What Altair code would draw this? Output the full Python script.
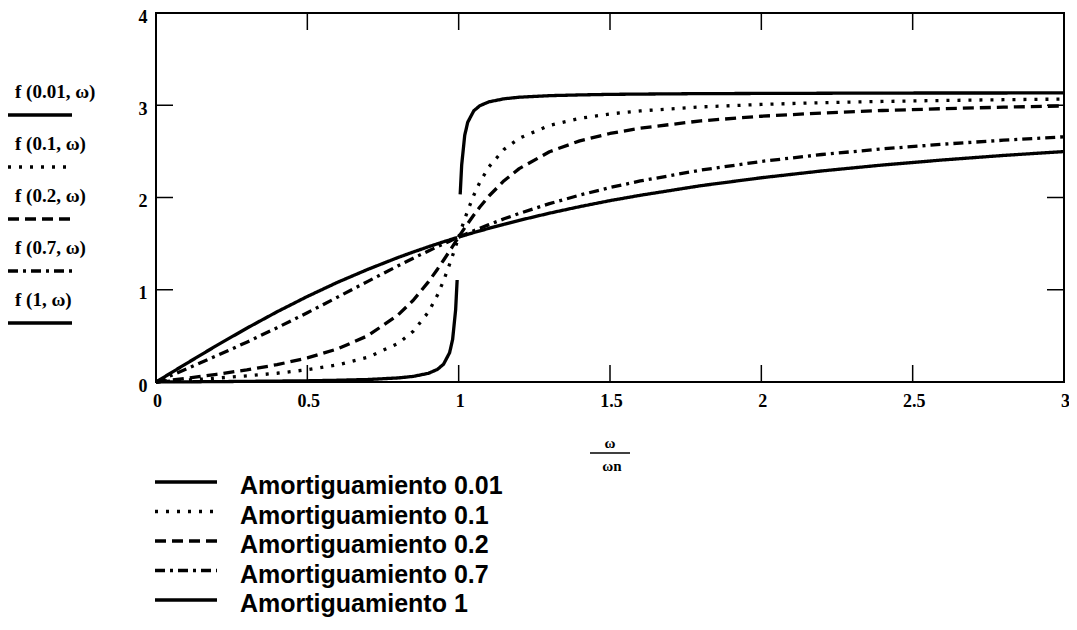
import altair as alt
import pandas as pd

# frequency ratio w/wn
r = [0, 0.1, 0.2, 0.3, 0.4, 0.5, 0.6, 0.7, 0.8, 0.85, 0.9, 0.93, 0.95, 0.97, 0.98,
     0.99, 0.995, 1.0, 1.005, 1.01, 1.02, 1.03, 1.05, 1.07, 1.1, 1.15, 1.2, 1.3,
     1.4, 1.5, 1.6, 1.8, 2.0, 2.2, 2.4, 2.6, 2.8, 3.0]

phi_001 = [0, 0.002, 0.004, 0.007, 0.010, 0.013, 0.019, 0.027, 0.044, 0.061, 0.094,
           0.137, 0.193, 0.317, 0.460, 0.783, 1.106, None, 2.033, 2.354, 2.674, 2.816,
           2.940, 2.995, 3.037, 3.070, 3.087, 3.104, 3.112, 3.118, 3.121, 3.126, 3.128,
           3.130, 3.132, 3.133, 3.133, 3.134]
phi_01 = [0, 0.020, 0.042, 0.066, 0.095, 0.133, 0.185, 0.268, 0.418, 0.550, 0.758,
          0.943, 1.097, 1.276, 1.371, 1.471, 1.521, 1.571, 1.621, 1.670, 1.766, 1.858,
          2.025, 2.166, 2.333, 2.522, 2.642, 2.781, 2.858, 2.906, 2.939, 2.982, 3.009,
          3.028, 3.041, 3.052, 3.060, 3.067]
phi_02 = [0, 0.040, 0.083, 0.131, 0.188, 0.261, 0.359, 0.502, 0.727, 0.886, 1.085,
          1.223, 1.320, 1.420, 1.470, 1.521, 1.546, 1.571, 1.596, 1.621, 1.670, 1.718,
          1.810, 1.897, 2.016, 2.182, 2.313, 2.496, 2.614, 2.694, 2.752, 2.831, 2.881,
          2.916, 2.943, 2.963, 2.979, 2.993]
phi_07 = [0, 0.141, 0.284, 0.432, 0.588, 0.751, 0.920, 1.091, 1.260, 1.342, 1.421,
          1.467, 1.498, 1.527, 1.542, 1.556, 1.564, 1.571, 1.578, 1.585, 1.599, 1.613,
          1.640, 1.667, 1.706, 1.769, 1.827, 1.933, 2.026, 2.108, 2.179, 2.297, 2.391,
          2.466, 2.527, 2.578, 2.621, 2.658]
phi_1 = [0, 0.199, 0.395, 0.583, 0.761, 0.927, 1.081, 1.221, 1.350, 1.409, 1.466,
         1.498, 1.520, 1.540, 1.551, 1.561, 1.566, 1.571, 1.576, 1.581, 1.591, 1.600,
         1.620, 1.638, 1.666, 1.710, 1.752, 1.830, 1.901, 1.966, 2.024, 2.128, 2.214,
         2.288, 2.352, 2.407, 2.456, 2.498]

series_labels = ["Amortiguamiento 0.01", "Amortiguamiento 0.1", "Amortiguamiento 0.2",
                 "Amortiguamiento 0.7", "Amortiguamiento 1"]
trace_labels = ["f (0.01, ω)", "f (0.1, ω)", "f (0.2, ω)", "f (0.7, ω)", "f (1, ω)"]
x_tick_values = [0, 0.5, 1, 1.5, 2, 2.5, 3]
y_tick_values = [0, 1, 2, 3, 4]
x_inner_ticks = [0.5, 1, 1.5, 2, 2.5]
y_inner_ticks = [1, 2, 3]

dashes = [[1, 0], [3, 8], [11, 6], [10, 5, 3, 5], [1, 0]]

records = []
for lab, vals in zip(series_labels, [phi_001, phi_01, phi_02, phi_07, phi_1]):
    for x, v in zip(r, vals):
        if v is None:
            continue
        records.append({"r": x, "phi": v, "serie": lab, "seg": lab + ("a" if x < 1 else "b")})
df = pd.DataFrame(records)

W, H = 908, 369
TICK = 17
SERIF = "Liberation Serif"
SANS = "Liberation Sans"

x_scale = alt.Scale(domain=[0, 3], nice=False, zero=False)
y_scale = alt.Scale(domain=[0, 4], nice=False)

x_axis = alt.Axis(values=x_tick_values, format="~g", title=None, grid=False,
                  domain=False, ticks=False, labelFont=SERIF, labelFontWeight="bold",
                  labelFontSize=18, labelColor="black", labelPadding=10,
                  labelOffset=1, labelFlush=False, labelOverlap=False)
y_axis = alt.Axis(values=y_tick_values, format="~g", title=None, grid=False,
                  domain=False, ticks=False, labelFont=SERIF, labelFontWeight="bold",
                  labelFontSize=18, labelColor="black", labelAlign="left",
                  labelBaseline="middle", labelPadding=18, labelOffset=4,
                  labelFlush=False, labelOverlap=False)

lines = alt.Chart(df).mark_line(strokeWidth=3.3, color="black", strokeJoin="round").encode(
    x=alt.X("r:Q", scale=x_scale, axis=x_axis),
    y=alt.Y("phi:Q", scale=y_scale, axis=y_axis),
    strokeDash=alt.StrokeDash("serie:N", scale=alt.Scale(domain=series_labels, range=dashes),
                              legend=None),
    detail="seg:N",
)

xt = pd.DataFrame({"r": x_inner_ticks})
yt = pd.DataFrame({"phi": y_inner_ticks})
tick_style = dict(color="black", strokeWidth=1.5)
bottom_ticks = alt.Chart(xt).mark_rule(**tick_style).encode(
    x=alt.X("r:Q", scale=x_scale, axis=x_axis), y=alt.value(H), y2=alt.value(H - TICK))
top_ticks = alt.Chart(xt).mark_rule(**tick_style).encode(
    x=alt.X("r:Q", scale=x_scale, axis=x_axis), y=alt.value(0), y2=alt.value(TICK))
left_ticks = alt.Chart(yt).mark_rule(**tick_style).encode(
    y=alt.Y("phi:Q", scale=y_scale, axis=y_axis), x=alt.value(0), x2=alt.value(TICK))
right_ticks = alt.Chart(yt).mark_rule(**tick_style).encode(
    y=alt.Y("phi:Q", scale=y_scale, axis=y_axis), x=alt.value(W), x2=alt.value(W - TICK))

one = pd.DataFrame({"k": [0]})
layers = [lines, bottom_ticks, top_ticks, left_ticks, right_ticks]

# left trace labels (Mathcad style)
for i, (lab, d) in enumerate(zip(trace_labels, dashes)):
    ty = 79 + i * 52
    ly = 102 + i * 52
    layers.append(alt.Chart(one).mark_text(text=lab, font=SERIF, fontWeight="bold", fontSize=19,
                                           align="left", baseline="middle", color="black")
                  .encode(x=alt.value(-141), y=alt.value(ty)))
    layers.append(alt.Chart(one).mark_rule(color="black", strokeWidth=3.5, strokeDash=d)
                  .encode(x=alt.value(-148), x2=alt.value(-84), y=alt.value(ly)))

# bottom legend
for i, (lab, d) in enumerate(zip(series_labels, dashes)):
    ly = 469 + i * 29.5
    layers.append(alt.Chart(one).mark_rule(color="black", strokeWidth=3.5, strokeDash=d)
                  .encode(x=alt.value(-1), x2=alt.value(61), y=alt.value(ly)))
    layers.append(alt.Chart(one).mark_text(text=lab, font=SANS, fontWeight="bold", fontSize=25,
                                           align="left", baseline="alphabetic", color="black")
                  .encode(x=alt.value(84), y=alt.value(ly + 12)))

# x axis title as a fraction
layers.append(alt.Chart(one).mark_text(text="ω", font=SERIF, fontWeight="bold", fontSize=15,
                                       align="center", baseline="middle", color="black")
              .encode(x=alt.value(454), y=alt.value(430)))
layers.append(alt.Chart(one).mark_rule(color="black", strokeWidth=1.5)
              .encode(x=alt.value(434), x2=alt.value(474), y=alt.value(440)))
layers.append(alt.Chart(one).mark_text(text="ωn", font=SERIF, fontWeight="bold", fontSize=15,
                                       align="center", baseline="middle", color="black")
              .encode(x=alt.value(456), y=alt.value(453)))

chart = alt.layer(*layers).properties(
    width=W, height=H,
    autosize=alt.AutoSizeParams(type="none"),
    padding={"left": 148, "top": 5, "right": 5, "bottom": 238},
    background="white",
).configure_view(stroke="black", strokeWidth=2)

chart.save("out.html", embed_options={"renderer": "svg", "actions": False})
